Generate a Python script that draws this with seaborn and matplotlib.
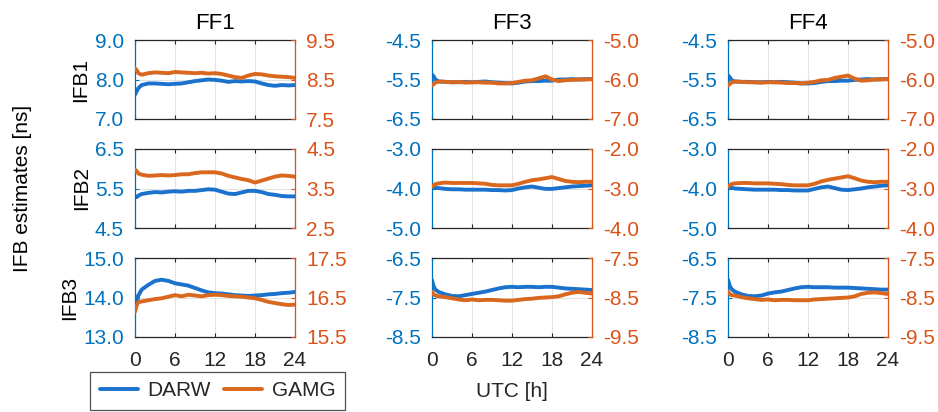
import numpy as np
import pandas as pd
import matplotlib
matplotlib.use("Agg")
import matplotlib.pyplot as plt
import seaborn as sns

# ---- data: inter-frequency bias estimates [ns] per station, hours of day (UTC) ----
hours = [0, 0.25, 0.5, 1, 2, 3, 4, 5, 6, 7, 8, 9, 10, 11, 12, 13, 14, 15, 16,
         17, 18, 19, 20, 21, 22, 23, 24]

columns = ["FF1", "FF3", "FF4"]
rows = ["IFB1", "IFB2", "IFB3"]

# FF1
darw_ff1_ifb1 = [7.62, 7.70, 7.78, 7.86, 7.90, 7.90, 7.89, 7.88, 7.89, 7.90, 7.93, 7.96,
                 7.98, 8.00, 7.99, 7.97, 7.94, 7.96, 7.95, 7.96, 7.95, 7.90, 7.86, 7.84,
                 7.86, 7.85, 7.86]
gamg_ff1_ifb1 = [8.78, 8.74, 8.66, 8.62, 8.66, 8.68, 8.67, 8.66, 8.69, 8.68, 8.67, 8.66,
                 8.67, 8.65, 8.66, 8.64, 8.60, 8.56, 8.54, 8.60, 8.64, 8.63, 8.60, 8.58,
                 8.57, 8.56, 8.54]
darw_ff1_ifb2 = [5.30, 5.28, 5.32, 5.36, 5.39, 5.41, 5.40, 5.42, 5.43, 5.42, 5.44, 5.44,
                 5.46, 5.48, 5.47, 5.42, 5.37, 5.36, 5.40, 5.44, 5.44, 5.41, 5.36, 5.34,
                 5.31, 5.30, 5.30]
gamg_ff1_ifb2 = [3.98, 3.94, 3.88, 3.85, 3.82, 3.83, 3.84, 3.83, 3.84, 3.86, 3.86, 3.89,
                 3.91, 3.91, 3.91, 3.88, 3.82, 3.78, 3.74, 3.71, 3.65, 3.70, 3.75, 3.80,
                 3.83, 3.82, 3.80]
darw_ff1_ifb3 = [14.02, 13.85, 14.05, 14.20, 14.32, 14.42, 14.45, 14.42, 14.36, 14.33,
                 14.30, 14.24, 14.18, 14.13, 14.11, 14.10, 14.08, 14.06, 14.05, 14.04,
                 14.05, 14.06, 14.08, 14.09, 14.11, 14.12, 14.14]
gamg_ff1_ifb3 = [16.14, 16.30, 16.38, 16.40, 16.43, 16.46, 16.48, 16.52, 16.56, 16.53,
                 16.57, 16.55, 16.53, 16.56, 16.57, 16.56, 16.54, 16.53, 16.52, 16.50,
                 16.48, 16.44, 16.39, 16.36, 16.33, 16.31, 16.32]

# FF3
darw_ff3_ifb1 = [-5.38, -5.42, -5.50, -5.55, -5.56, -5.57, -5.57, -5.56, -5.57, -5.56,
                 -5.55, -5.57, -5.58, -5.59, -5.60, -5.58, -5.55, -5.54, -5.54, -5.53,
                 -5.53, -5.50, -5.50, -5.49, -5.50, -5.49, -5.49]
gamg_ff3_ifb1 = [-6.15, -6.12, -6.08, -6.05, -6.06, -6.07, -6.06, -6.08, -6.07, -6.07,
                 -6.08, -6.08, -6.10, -6.10, -6.09, -6.06, -6.03, -6.02, -5.97, -5.92,
                 -6.00, -6.04, -6.02, -6.01, -6.00, -6.00, -5.99]
darw_ff3_ifb2 = [-3.95, -3.96, -3.98, -3.99, -4.01, -4.02, -4.02, -4.03, -4.03, -4.03,
                 -4.03, -4.04, -4.04, -4.05, -4.04, -4.00, -3.97, -3.95, -3.98, -4.01,
                 -4.01, -3.99, -3.97, -3.95, -3.94, -3.93, -3.92]
gamg_ff3_ifb2 = [-2.95, -2.92, -2.89, -2.87, -2.85, -2.86, -2.86, -2.86, -2.86, -2.87,
                 -2.88, -2.91, -2.92, -2.92, -2.92, -2.88, -2.83, -2.79, -2.77, -2.74,
                 -2.71, -2.76, -2.81, -2.83, -2.84, -2.83, -2.83]
darw_ff3_ifb3 = [-7.06, -7.22, -7.30, -7.36, -7.42, -7.46, -7.47, -7.44, -7.41, -7.38,
                 -7.35, -7.31, -7.27, -7.24, -7.23, -7.24, -7.23, -7.23, -7.24, -7.23,
                 -7.23, -7.25, -7.27, -7.28, -7.29, -7.30, -7.31]
gamg_ff3_ifb3 = [-8.36, -8.42, -8.45, -8.47, -8.49, -8.52, -8.55, -8.57, -8.55, -8.57,
                 -8.56, -8.56, -8.57, -8.58, -8.58, -8.56, -8.54, -8.53, -8.51, -8.50,
                 -8.49, -8.47, -8.42, -8.38, -8.36, -8.38, -8.40]

# FF4
darw_ff4_ifb1 = [-5.40, -5.44, -5.51, -5.55, -5.56, -5.56, -5.57, -5.57, -5.56, -5.57,
                 -5.56, -5.57, -5.58, -5.60, -5.60, -5.59, -5.56, -5.54, -5.54, -5.53,
                 -5.53, -5.51, -5.50, -5.49, -5.50, -5.49, -5.49]
gamg_ff4_ifb1 = [-6.15, -6.12, -6.08, -6.05, -6.06, -6.07, -6.07, -6.08, -6.07, -6.07,
                 -6.08, -6.09, -6.09, -6.10, -6.08, -6.06, -6.02, -6.01, -5.96, -5.93,
                 -5.90, -5.98, -6.03, -6.02, -6.00, -6.00, -5.99]
darw_ff4_ifb2 = [-3.95, -3.97, -3.98, -4.00, -4.01, -4.02, -4.03, -4.03, -4.03, -4.03,
                 -4.04, -4.04, -4.05, -4.05, -4.05, -4.01, -3.97, -3.95, -3.99, -4.03,
                 -4.04, -4.02, -4.00, -3.97, -3.95, -3.93, -3.92]
gamg_ff4_ifb2 = [-2.95, -2.92, -2.89, -2.87, -2.86, -2.86, -2.87, -2.87, -2.87, -2.88,
                 -2.89, -2.91, -2.92, -2.92, -2.92, -2.88, -2.82, -2.78, -2.75, -2.72,
                 -2.69, -2.74, -2.80, -2.83, -2.84, -2.83, -2.83]
darw_ff4_ifb3 = [-7.05, -7.20, -7.28, -7.35, -7.42, -7.46, -7.47, -7.45, -7.40, -7.37,
                 -7.35, -7.31, -7.27, -7.24, -7.23, -7.24, -7.24, -7.24, -7.25, -7.25,
                 -7.25, -7.26, -7.27, -7.28, -7.29, -7.30, -7.30]
gamg_ff4_ifb3 = [-8.35, -8.41, -8.44, -8.45, -8.49, -8.52, -8.54, -8.56, -8.55, -8.57,
                 -8.56, -8.56, -8.57, -8.57, -8.57, -8.55, -8.54, -8.53, -8.52, -8.51,
                 -8.50, -8.47, -8.41, -8.38, -8.37, -8.39, -8.41]

darw = [[darw_ff1_ifb1, darw_ff3_ifb1, darw_ff4_ifb1],
        [darw_ff1_ifb2, darw_ff3_ifb2, darw_ff4_ifb2],
        [darw_ff1_ifb3, darw_ff3_ifb3, darw_ff4_ifb3]]
gamg = [[gamg_ff1_ifb1, gamg_ff3_ifb1, gamg_ff4_ifb1],
        [gamg_ff1_ifb2, gamg_ff3_ifb2, gamg_ff4_ifb2],
        [gamg_ff1_ifb3, gamg_ff3_ifb3, gamg_ff4_ifb3]]

# y-axis tick values (left axis: DARW, right axis: GAMG)
left_ticks = [[[7.0, 8.0, 9.0], [-6.5, -5.5, -4.5], [-6.5, -5.5, -4.5]],
              [[4.5, 5.5, 6.5], [-5.0, -4.0, -3.0], [-5.0, -4.0, -3.0]],
              [[13.0, 14.0, 15.0], [-8.5, -7.5, -6.5], [-8.5, -7.5, -6.5]]]
right_ticks = [[[7.5, 8.5, 9.5], [-7.0, -6.0, -5.0], [-7.0, -6.0, -5.0]],
               [[2.5, 3.5, 4.5], [-4.0, -3.0, -2.0], [-4.0, -3.0, -2.0]],
               [[15.5, 16.5, 17.5], [-9.5, -8.5, -7.5], [-9.5, -8.5, -7.5]]]
x_ticks = [0, 6, 12, 18, 24]

# ---- styling ----
sns.set_theme(style="white")
plt.rcParams["font.family"] = ["Liberation Sans", "DejaVu Sans"]

BLUE_AX = "#0072BD"
ORANGE_AX = "#D95319"
BLUE_LN = "#1a72cc"
ORANGE_LN = "#d9681e"
DARK = "#262626"
FS = 15

fig = plt.figure(figsize=(9.38, 4.12), dpi=100)

W, H = 938.0, 412.0
col_x = [135, 432, 728]
col_w = 160
row_top = [40, 149, 258]
row_h = 79

legend_handles = None
for r in range(3):
    for c in range(3):
        x0 = col_x[c] / W
        y0 = (H - row_top[r] - row_h) / H
        ax = fig.add_axes([x0, y0, col_w / W, row_h / H])
        ax2 = ax.twinx()

        df_l = pd.DataFrame({"UTC": hours, "IFB": darw[r][c]})
        df_r = pd.DataFrame({"UTC": hours, "IFB": gamg[r][c]})
        sns.lineplot(data=df_l, x="UTC", y="IFB", ax=ax, color=BLUE_LN,
                     lw=2.8, label="DARW", legend=False)
        sns.lineplot(data=df_r, x="UTC", y="IFB", ax=ax2, color=ORANGE_LN,
                     lw=2.8, label="GAMG", legend=False)

        lt = left_ticks[r][c]
        rt = right_ticks[r][c]
        ax.set_ylim(lt[0], lt[-1])
        ax2.set_ylim(rt[0], rt[-1])
        ax.set_xlim(0, 24)
        ax.set_yticks(lt)
        ax2.set_yticks(rt)
        ax.set_yticklabels([f"{v:.1f}" for v in lt])
        ax2.set_yticklabels([f"{v:.1f}" for v in rt])
        ax.set_xticks(x_ticks)
        if r == 2:
            ax.set_xticklabels([str(v) for v in x_ticks])
        else:
            ax.set_xticklabels([])

        ax.set_xlabel("")
        ax.set_ylabel("")
        ax2.set_ylabel("")

        ax.grid(True, color="#e3e3e3", lw=0.8)
        ax.set_axisbelow(True)

        ax.tick_params(axis="x", direction="in", length=3, width=0.8, color=DARK,
                       top=True, bottom=True, labelsize=FS, labelcolor=DARK, pad=10)
        ax.tick_params(axis="y", direction="in", length=3, width=0.8,
                       color=BLUE_AX, labelcolor=BLUE_AX, labelsize=FS, pad=8)
        ax2.tick_params(axis="y", direction="in", length=3, width=0.8,
                        color=ORANGE_AX, labelcolor=ORANGE_AX, labelsize=FS, pad=8)

        for s in ["top", "bottom"]:
            ax.spines[s].set_color(DARK)
            ax.spines[s].set_linewidth(0.9)
        ax.spines["left"].set_color(BLUE_AX)
        ax.spines["left"].set_linewidth(0.9)
        ax.spines["right"].set_visible(False)
        for s in ["top", "bottom", "left"]:
            ax2.spines[s].set_visible(False)
        ax2.spines["right"].set_color(ORANGE_AX)
        ax2.spines["right"].set_linewidth(0.9)

        if r == 0:
            ax.set_title(columns[c], fontsize=FS + 1, color="black", pad=8)
        if c == 0:
            ax.set_ylabel(rows[r], fontsize=FS, color="black", labelpad=3)
        if r == 2 and c == 1:
            ax.set_xlabel("UTC [h]", fontsize=FS, color=DARK, labelpad=9)

        if legend_handles is None:
            legend_handles = ax.get_lines()[:1] + ax2.get_lines()[:1]

fig.text(23 / W, (H - 188) / H, "IFB estimates [ns]", rotation=90,
         ha="center", va="center", fontsize=FS, color="black")

leg = fig.legend(legend_handles, ["DARW", "GAMG"], loc="center",
                 bbox_to_anchor=(217.5 / W, (H - 391) / H), ncol=2,
                 fontsize=FS, frameon=True, fancybox=False, handlelength=1.85,
                 columnspacing=0.6, handletextpad=0.45, borderpad=0.45,
                 borderaxespad=0)
leg.get_frame().set_edgecolor(DARK)
leg.get_frame().set_linewidth(0.9)

fig.savefig("out.png", dpi=100, facecolor="white")
